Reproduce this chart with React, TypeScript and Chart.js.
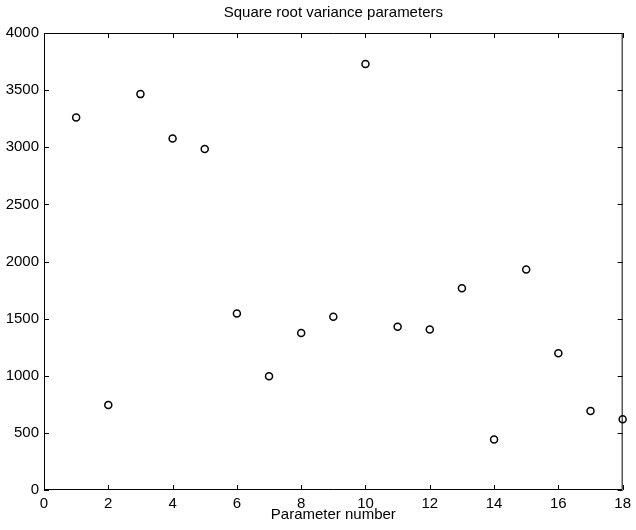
import React, { useEffect, useRef } from "react";
import { Chart, registerables } from "chart.js";

Chart.register(...registerables);

const paramNumbers = [1, 2, 3, 4, 5, 6, 7, 8, 9, 10, 11, 12, 13, 14, 15, 16, 17, 18];
const sqrtVariance = [3260, 744, 3465, 3076, 2985, 1544, 996, 1374, 1516, 3729, 1429, 1405, 1766, 442, 1931, 1196, 692, 620];
const xTicks = [0, 2, 4, 6, 8, 10, 12, 14, 16, 18];
const yTicks = [0, 500, 1000, 1500, 2000, 2500, 3000, 3500, 4000];
const titleText = "Square root variance parameters";
const xTitle = "Parameter number";

const FONT = "'Liberation Sans', Arial, Helvetica, sans-serif";

const boxTicksPlugin = {
  id: "boxTicks",
  afterDatasetsDraw(chart: any) {
    const { ctx, chartArea, scales } = chart;
    const { left, right, top, bottom } = chartArea;
    const len = 5;
    ctx.save();
    ctx.strokeStyle = "#000";
    ctx.lineWidth = 1;
    ctx.beginPath();
    ctx.rect(left + 0.5, top + 0.5, right - left - 1, bottom - top - 1);
    for (const v of xTicks) {
      const px = Math.round(scales.x.getPixelForValue(v)) + 0.5;
      ctx.moveTo(px, bottom);
      ctx.lineTo(px, bottom - len);
      ctx.moveTo(px, top);
      ctx.lineTo(px, top + len);
    }
    for (const v of yTicks) {
      const py = Math.round(scales.y.getPixelForValue(v)) + 0.5;
      ctx.moveTo(left, py);
      ctx.lineTo(left + len, py);
      ctx.moveTo(right, py);
      ctx.lineTo(right - len, py);
    }
    ctx.stroke();
    ctx.restore();
  },
};

export default function App() {
  const ref = useRef<HTMLCanvasElement | null>(null);
  useEffect(() => {
    if (!ref.current) return;
    Chart.defaults.font.family = FONT;
    Chart.defaults.color = "#000";
    const chart = new Chart(ref.current, {
      type: "scatter",
      data: {
        datasets: [
          {
            data: paramNumbers.map((x, i) => ({ x, y: sqrtVariance[i] })),
            pointStyle: "circle",
            pointRadius: 3.5,
            pointHoverRadius: 3.5,
            pointBorderWidth: 1.5,
            pointBorderColor: "#000",
            pointBackgroundColor: "rgba(255,255,255,0)",
            showLine: false,
            clip: false,
          } as any,
        ],
      },
      options: {
        animation: false,
        responsive: false,
        maintainAspectRatio: false,
        events: [],
        layout: { padding: { left: 0, right: 9, top: 0, bottom: 0 } },
        plugins: {
          legend: { display: false },
          tooltip: { enabled: false },
          title: {
            display: true,
            text: titleText,
            fullSize: false,
            color: "#000",
            font: { family: FONT, size: 15, weight: "normal", lineHeight: 1.2 },
            padding: { top: 4, bottom: 11 },
          },
        },
        scales: {
          x: {
            type: "linear",
            min: 0,
            max: 18,
            afterBuildTicks: (scale: any) => {
              scale.ticks = xTicks.map((v) => ({ value: v }));
            },
            afterFit: (scale: any) => {
              scale.height = 40;
            },
            grid: { display: false, drawTicks: false },
            border: { display: false },
            ticks: {
              padding: 5,
              color: "#000",
              font: { family: FONT, size: 15 },
              maxRotation: 0,
              autoSkip: false,
              callback: (v: any) => String(v),
            },
            title: {
              display: true,
              text: xTitle,
              color: "#000",
              font: { family: FONT, size: 15 },
              padding: { top: 0, bottom: 6 },
            },
          },
          y: {
            type: "linear",
            min: 0,
            max: 4000,
            afterBuildTicks: (scale: any) => {
              scale.ticks = yTicks.map((v) => ({ value: v }));
            },
            afterFit: (scale: any) => {
              scale.width = 44;
            },
            grid: { display: false, drawTicks: false },
            border: { display: false },
            ticks: {
              padding: 5,
              color: "#000",
              font: { family: FONT, size: 15 },
              autoSkip: false,
              callback: (v: any) => String(v),
            },
          },
        },
      },
      plugins: [boxTicksPlugin],
    });
    return () => chart.destroy();
  }, []);
  return (
    <div style={{ position: "absolute", left: 0, top: 0, width: 636, height: 530, background: "#fff" }}>
      <canvas ref={ref} width={636} height={530} style={{ display: "block" }} />
    </div>
  );
}
